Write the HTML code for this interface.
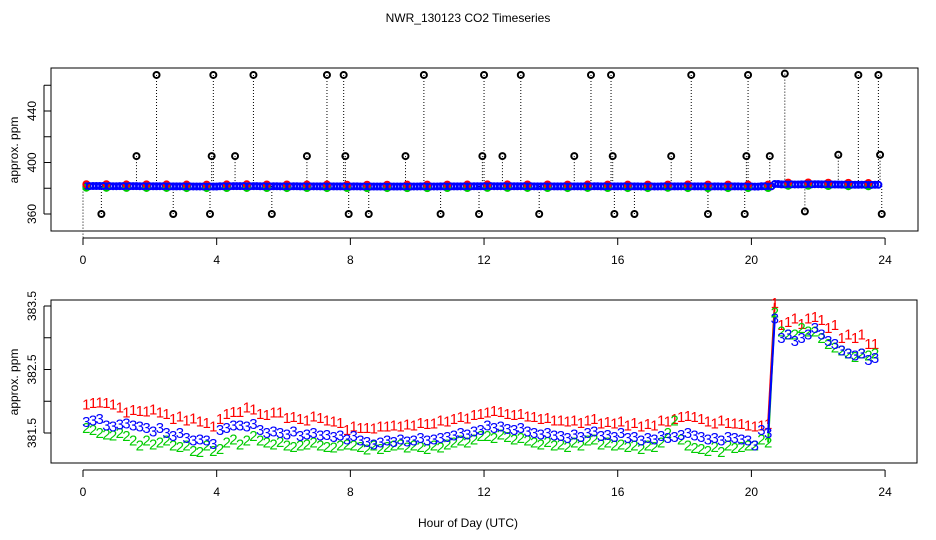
<!DOCTYPE html>
<html><head><meta charset="utf-8"><style>
body{margin:0;background:#fff}
svg{display:block;font-family:"Liberation Sans",sans-serif}
</style></head><body>
<svg id="c" width="936" height="540" viewBox="0 0 936 540">
<text x="468" y="22" text-anchor="middle" font-size="12">NWR_130123  CO2 Timeseries</text>
<rect x="51" y="68" width="867" height="163" fill="none" stroke="#000"/>
<rect x="51" y="300" width="866" height="163" fill="none" stroke="#000"/>
<text transform="translate(18,150) rotate(-90)" text-anchor="middle" font-size="12">approx. ppm</text>
<text transform="translate(18,382) rotate(-90)" text-anchor="middle" font-size="12">approx. ppm</text>
<text x="468" y="527" text-anchor="middle" font-size="12">Hour of Day (UTC)</text>
<g id="topPanel"></g>
<g id="botPanel"></g>
</svg>
<script>
const xTicks=[0,4,8,12,16,20,24];
const topYTicks=[360,380,400,420,440,460];
const topYLabels=["360","","400","","440",""];
const botYTicks=[381.5,382,382.5,383,383.5];
const botYLabels=["381.5","","382.5","","383.5"];
const t0=0.1, dt=0.2;
const red=[381.95,381.97,381.98,381.97,381.95,381.9,381.82,381.86,381.85,381.84,381.87,381.82,381.8,381.72,381.76,381.7,381.73,381.68,381.66,381.6,
381.72,381.8,381.83,381.83,381.9,381.87,381.8,381.78,381.82,381.82,381.74,381.75,381.72,381.7,381.76,381.74,381.7,381.68,381.66,381.55,
381.6,381.58,381.58,381.57,381.6,381.6,381.62,381.6,381.63,381.62,381.66,381.64,381.65,381.7,381.68,381.72,381.75,381.73,381.78,381.8,
381.82,381.85,381.83,381.8,381.78,381.8,381.76,381.75,381.72,381.74,381.7,381.7,381.68,381.7,381.66,381.7,381.72,381.65,381.67,381.65,
381.68,381.62,381.66,381.6,381.64,381.62,381.7,381.68,381.72,381.75,381.77,381.75,381.72,381.68,381.65,381.7,381.66,381.65,381.64,381.62,
381.6,381.62,381.64,383.55,383.2,383.25,383.3,383.22,383.3,383.33,383.28,383.15,383.2,383.0,383.05,383.0,383.05,382.9,382.9];
const blue=[381.67,381.7,381.72,381.62,381.6,381.63,381.65,381.62,381.6,381.58,381.52,381.58,381.5,381.45,381.5,381.42,381.38,381.4,381.38,381.33,
381.55,381.58,381.62,381.62,381.6,381.64,381.55,381.5,381.52,381.5,381.48,381.52,381.45,381.48,381.5,381.46,381.47,381.44,381.46,381.4,
381.45,381.38,381.36,381.32,381.35,381.38,381.36,381.4,381.37,381.38,381.42,381.38,381.4,381.42,381.44,381.46,381.5,381.48,381.52,381.55,
381.62,381.58,381.6,381.56,381.55,381.58,381.52,381.5,381.48,381.5,381.46,381.45,381.42,381.48,381.44,381.5,381.52,381.45,381.47,381.44,
381.5,381.42,381.44,381.38,381.42,381.4,381.45,381.42,381.44,381.47,381.5,381.46,381.44,381.4,381.42,381.38,381.44,381.42,381.4,381.38,
381.3,381.55,381.5,383.3,383.0,383.05,382.95,383.0,383.05,383.15,383.05,382.95,382.9,382.8,382.75,382.72,382.75,382.65,382.68];
const green=[381.58,381.55,381.5,381.48,381.46,381.5,381.45,381.38,381.3,381.38,381.32,381.35,381.38,381.3,381.28,381.3,381.22,381.2,381.3,381.22,
381.25,381.35,381.4,381.32,381.38,381.45,381.38,381.35,381.32,381.36,381.3,381.28,381.3,381.32,381.35,381.3,381.28,381.27,381.3,381.32,
381.3,381.28,381.24,381.3,381.25,381.28,381.3,381.32,381.27,381.3,381.28,381.25,381.3,381.27,381.32,381.35,381.38,381.35,381.4,381.45,
381.45,381.42,381.48,381.44,381.4,381.42,381.38,381.35,381.32,381.36,381.3,381.32,381.28,381.35,381.3,381.38,381.4,381.32,381.35,381.3,
381.32,381.28,381.3,381.25,381.3,381.28,381.35,381.5,381.7,381.4,381.3,381.26,381.25,381.22,381.28,381.2,381.3,381.26,381.28,381.3,
381.3,381.4,381.35,383.4,383.1,383.05,383.05,383.15,383.1,383.1,383.0,382.9,382.85,382.8,382.75,382.7,382.75,382.72,382.75];
const outlierHours=[2.2,3.9,5.1,7.3,7.8,10.2,12.0,13.1,15.2,15.8,18.2,19.9,21.0,23.2,23.8,
1.6,3.85,4.55,6.7,7.85,9.65,11.95,12.55,14.7,15.85,17.6,19.85,20.55,22.6,23.85,
0.55,2.7,3.8,5.65,7.95,8.55,10.7,11.85,13.65,15.9,16.5,18.7,19.8,21.6,23.9];
const outlierValues=[468,468,468,468,468,468,468,468,468,468,468,468,469,468,468,
405,405,405,405,405,405,405,405,405,405,405,405,405,406,406,
360,360,360,360,360,360,360,360,360,360,360,360,360,362,360];

const NS="http://www.w3.org/2000/svg";
const X=h=>83+h*33.42;
const YT=v=>214-(v-360)*1.2875;
const YB=v=>433-(v-381.5)*63.5;
function mk(tag,attrs,parent){const e=document.createElementNS(NS,tag);for(const k in attrs)e.setAttribute(k,attrs[k]);parent.appendChild(e);return e;}
const topG=document.getElementById('topPanel'), botG=document.getElementById('botPanel');

function xAxis(g,y0){
  mk('line',{x1:X(0),x2:X(24),y1:y0,y2:y0,stroke:'#000'},g);
  xTicks.forEach(t=>{
    const l=mk('line',{x1:X(t),x2:X(t),y1:y0,y2:y0+7,stroke:'#000'},g);
    
    
    const tx=mk('text',{x:X(t),y:y0+26,'text-anchor':'middle','font-size':12},g);
    tx.textContent=t;
    
    
  });
}
function yAxis(g,ticks,labels,Y){
  mk('line',{x1:44,x2:44,y1:Y(ticks[0]),y2:Y(ticks[ticks.length-1]),stroke:'#000'},g);
  ticks.forEach((t,i)=>{
    const l=mk('line',{x1:44,x2:51,y1:Y(t),y2:Y(t),stroke:'#000'},g);
    
    
    if(labels[i]){
      const tx=mk('text',{transform:`translate(36,${Y(t)}) rotate(-90)`,'text-anchor':'middle','font-size':12},g);
      tx.textContent=labels[i];
      
      
    }
  });
}
yAxis(topG,topYTicks,topYLabels,YT);
xAxis(topG,231+7);
yAxis(botG,botYTicks,botYLabels,YB);
xAxis(botG,463+7);

mk('line',{x1:X(0),x2:X(0),y1:YT(382),y2:238,stroke:'#000','stroke-dasharray':'1,2'},topG);
outlierHours.forEach((h,i)=>{
  const l=mk('line',{x1:X(h),x2:X(h),y1:YT(outlierValues[i]),y2:YT(382),stroke:'#000','stroke-dasharray':'1,2'},topG);
  
  
});
[[blue,'#00f',0],[green,'#0c0',1.5],[red,'#f00',-1.5]].forEach(([s,c,dy])=>{
  s.forEach((v,i)=>{
    if(c!=='#00f' && i%3!==0) return;
    const e=mk('circle',{cx:X(t0+dt*i),cy:YT(v)+dy,r:3,fill:'none',stroke:c,'stroke-width':2},topG);
    
    
  });
});
blue.forEach((v,i)=>{
  const e=mk('circle',{cx:X(t0+dt*i+0.1),cy:YT(v),r:3,fill:'none',stroke:'#00f','stroke-width':2},topG);
  
  
});
outlierHours.forEach((h,i)=>{
  const e=mk('circle',{cx:X(h),cy:YT(outlierValues[i]),r:3,fill:'none',stroke:'#000','stroke-width':2},topG);
  
  
});

[[red,'#f00','1'],[green,'#0c0','2'],[blue,'#00f','3']].forEach(([s,c,ch])=>{
  const j=103;
  mk('line',{x1:X(t0+dt*(j-1)),x2:X(t0+dt*j),y1:YB(s[j-1]),y2:YB(s[j]),stroke:c,'stroke-width':2},botG);
  s.forEach((v,i)=>{
    const e=mk('text',{x:X(t0+dt*i),y:YB(v)+5,'text-anchor':'middle','font-size':15,fill:c},botG);
    e.textContent=ch;
    
    
  });
});
</script>
</body></html>
